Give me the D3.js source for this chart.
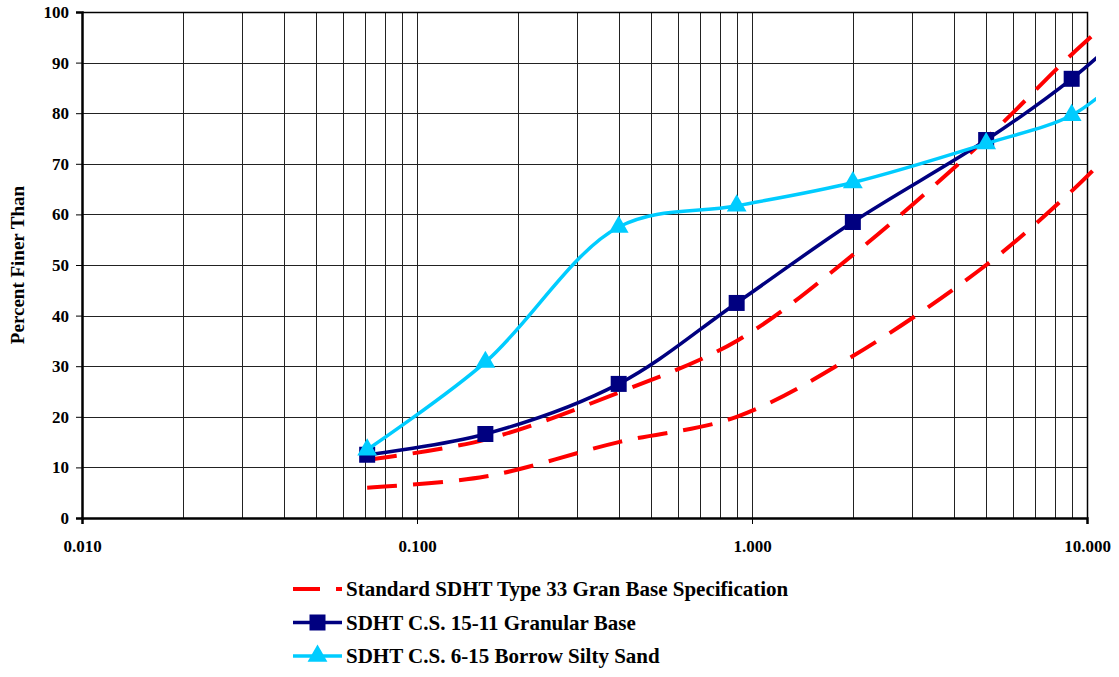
<!DOCTYPE html>
<html>
<head>
<meta charset="utf-8">
<script src="https://cdn.jsdelivr.net/npm/d3@7"></script>
<style>
  body { margin: 0; background: #fff; }
  text { font-family: "Liberation Serif", "Times New Roman", serif; font-weight: bold; }
</style>
</head>
<body>
<div class="chart"></div>
<script>
// sieve sizes (mm) and percent passing
const sieveSizes = [0.071, 0.16, 0.4, 0.9, 2, 5, 9, 12.5];
const specUpper = [11.5, 15.5, 24.8, 35, 52, 75, 91.6, 100];
const specLower = [6, 8.2, 15, 20, 32, 50, 64.6, 74];
const granularBase = [12.5, 16.6, 26.5, 42.5, 58.5, 74.7, 86.8, 95];
const borrowSand = [13.5, 30.8, 57.5, 61.7, 66.3, 74, 79.6, 86.7];

const xTickValues = [0.01, 0.1, 1, 10];
const yTickValues = [0, 10, 20, 30, 40, 50, 60, 70, 80, 90, 100];
const legendLabels = ["Standard SDHT Type 33 Gran Base Specification",
  "SDHT C.S. 15-11 Granular Base",
  "SDHT C.S. 6-15 Borrow Silty Sand"];

const W = 1119, H = 677;
const margin = {top: 12, right: 32, bottom: 159, left: 82};

const svg = d3.select('.chart')
    .append('svg')
    .attr('width', W)
    .attr('height', H);

const xScale = d3.scaleLog()
    .domain([0.01, 10])
    .range([margin.left, W - margin.right]);

const yScale = d3.scaleLinear()
    .domain([0, 100])
    .range([H - margin.bottom, margin.top]);

const x0 = xScale.range()[0], x1 = xScale.range()[1];
const y0 = yScale.range()[0], y1 = yScale.range()[1];

// grid lines
const minorX = [];
for (let d = 0.01; d < 10; d *= 10) {
  for (let k = 1; k <= 9; k++) minorX.push(d * k);
}
minorX.push(10);

svg.append('g')
    .selectAll('line')
    .data(minorX)
    .join('line')
    .attr('x1', d => Math.round(xScale(d)) + 0.5)
    .attr('x2', d => Math.round(xScale(d)) + 0.5)
    .attr('y1', y1)
    .attr('y2', y0)
    .attr('stroke', '#222')
    .attr('stroke-width', 1);

svg.append('g')
    .selectAll('line')
    .data(yTickValues)
    .join('line')
    .attr('x1', x0)
    .attr('x2', x1)
    .attr('y1', d => Math.round(yScale(d)) + 0.5)
    .attr('y2', d => Math.round(yScale(d)) + 0.5)
    .attr('stroke', '#222')
    .attr('stroke-width', 1);

// axes
const xAxis = g => g
    .attr('transform', `translate(0,${y0})`)
    .call(d3.axisBottom(xScale).tickValues(xTickValues).tickFormat(d3.format('.3f')).tickSize(6).tickPadding(16))
    .call(g => g.select('.domain').attr('stroke', '#000').attr('stroke-width', 2.5))
    .call(g => g.selectAll('.tick line').attr('stroke', '#000'))
    .call(g => g.selectAll('.tick text').attr('font-size', 17).attr('fill', '#000')
        .attr('font-family', '"Liberation Serif", serif'));

const yAxis = g => g
    .attr('transform', `translate(${x0},0)`)
    .call(d3.axisLeft(yScale).tickValues(yTickValues).tickSize(6).tickPadding(7))
    .call(g => g.select('.domain').attr('stroke', '#000').attr('stroke-width', 2.5))
    .call(g => g.selectAll('.tick line').attr('stroke', '#000'))
    .call(g => g.selectAll('.tick text').attr('font-size', 17).attr('fill', '#000')
        .attr('font-family', '"Liberation Serif", serif'));

svg.append('g').call(xAxis);
svg.append('g').call(yAxis);

// top and right border
svg.append('path')
    .attr('d', `M${x0},${y1 + 0.5}H${x1 + 0.5}V${y0}`)
    .attr('fill', 'none')
    .attr('stroke', '#000')
    .attr('stroke-width', 1.5);

// y title
svg.append('text')
    .attr('transform', `translate(24,${(y0 + y1) / 2}) rotate(-90)`)
    .attr('text-anchor', 'middle')
    .attr('font-size', 19)
    .text('Percent Finer Than');

// clip for series (slightly wider than the plot, like the original)
svg.append('clipPath')
    .attr('id', 'plotclip')
    .append('rect')
    .attr('x', x0)
    .attr('y', 0)
    .attr('width', 1096 - x0)
    .attr('height', y0);

const line = d3.line()
    .x(d => xScale(d.x))
    .y(d => yScale(d.y))
    .curve(d3.curveCatmullRom.alpha(0.5));

const toPts = arr => arr.map((v, i) => ({x: sieveSizes[i], y: v}));

const plot = svg.append('g').attr('clip-path', 'url(#plotclip)');

[specUpper, specLower].forEach(s => {
  plot.append('path')
      .datum(toPts(s))
      .attr('fill', 'none')
      .attr('stroke', '#ff0000')
      .attr('stroke-width', 4)
      .attr('stroke-dasharray', '30,16')
      .attr('d', line);
});

plot.append('path')
    .datum(toPts(granularBase))
    .attr('fill', 'none')
    .attr('stroke', '#000080')
    .attr('stroke-width', 3.5)
    .attr('d', line);

plot.selectAll('rect.sq')
    .data(toPts(granularBase))
    .join('rect')
    .attr('class', 'sq')
    .attr('x', d => xScale(d.x) - 8)
    .attr('y', d => yScale(d.y) - 8)
    .attr('width', 16)
    .attr('height', 16)
    .attr('fill', '#000080');

plot.append('path')
    .datum(toPts(borrowSand))
    .attr('fill', 'none')
    .attr('stroke', '#00ccff')
    .attr('stroke-width', 3.5)
    .attr('d', line);

const tri = d3.symbol().type(d3.symbolTriangle).size(170);
plot.selectAll('path.tri')
    .data(toPts(borrowSand))
    .join('path')
    .attr('class', 'tri')
    .attr('transform', d => `translate(${xScale(d.x)},${yScale(d.y)})`)
    .attr('d', tri)
    .attr('fill', '#00ccff');

// legend
const legend = svg.append('g').attr('transform', 'translate(293,589)');
const rowH = 33.5;

legend.append('line')
    .attr('x1', 0).attr('x2', 49)
    .attr('y1', 0).attr('y2', 0)
    .attr('stroke', '#ff0000').attr('stroke-width', 4)
    .attr('stroke-dasharray', '27,16');

legend.append('line')
    .attr('x1', 0).attr('x2', 49)
    .attr('y1', rowH).attr('y2', rowH)
    .attr('stroke', '#000080').attr('stroke-width', 3.5);
legend.append('rect')
    .attr('x', 24.5 - 8).attr('y', rowH - 8)
    .attr('width', 16).attr('height', 16)
    .attr('fill', '#000080');

legend.append('line')
    .attr('x1', 0).attr('x2', 49)
    .attr('y1', 2 * rowH).attr('y2', 2 * rowH)
    .attr('stroke', '#00ccff').attr('stroke-width', 3.5);
legend.append('path')
    .attr('transform', `translate(24.5,${2 * rowH})`)
    .attr('d', tri)
    .attr('fill', '#00ccff');

legend.selectAll('text')
    .data(legendLabels)
    .join('text')
    .attr('x', 53)
    .attr('y', (d, i) => i * rowH)
    .attr('dy', '0.35em')
    .attr('font-size', 21)
    .text(d => d);
</script>
</body>
</html>
